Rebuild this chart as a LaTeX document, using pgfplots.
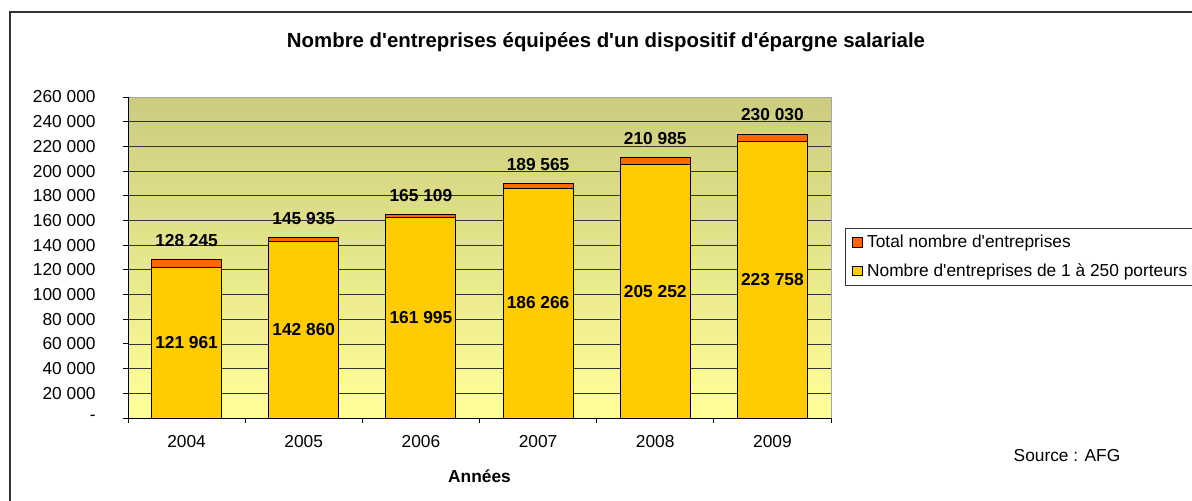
\documentclass[border=0pt]{standalone}
\usepackage{fontspec}
\setmainfont{Liberation Sans}
\usepackage{pgfplots}
\pgfplotsset{compat=1.18}
\definecolor{barY}{RGB}{255,204,0}
\definecolor{barO}{RGB}{255,102,0}
\definecolor{bgTop}{RGB}{204,204,128}
\definecolor{bgBot}{RGB}{255,255,153}
\newcommand{\ap}{\textquotesingle}
\begin{document}
\begin{tikzpicture}
\useasboundingbox (0,0) rectangle (894pt,375pt);
\clip (0,0) rectangle (894pt,375pt);
\fill[white] (0,0) rectangle (894pt,375pt);
\draw[line width=1.5pt, black!80] (7.5pt,-5pt) -- (7.5pt,366pt) -- (900pt,366pt);
\node[font=\fontsize{15.3}{18}\selectfont\bfseries] at (454.5pt,343.5pt) {Nombre d\ap entreprises équipées d\ap un dispositif d\ap épargne salariale};
\node[font=\fontsize{13}{15}\selectfont] at (800.25pt,33pt) {Source : AFG};
\begin{axis}[
  at={(96pt,61.5pt)}, anchor=south west,
  scale only axis, width=527.25pt, height=240.75pt,
  xmin=-0.5, xmax=5.5, ymin=0, ymax=260000,
  clip=false,
  axis x line*=bottom, axis y line*=left,
  axis line style={black, line width=0.75pt},
  axis background/.style={top color=bgTop, bottom color=bgBot, draw=gray!70, line width=0.75pt},
  tick align=outside, major tick length=3.75pt,
  tick style={black, line width=0.75pt},
  xtick={-0.5,0.5,1.5,2.5,3.5,4.5,5.5},
  x tick label as interval=true,
  xticklabels={2004,2005,2006,2007,2008,2009},
  x tick label style={yshift=-6pt},
  ytick={0,20000,40000,60000,80000,100000,120000,140000,160000,180000,200000,220000,240000},
  yticklabels={-,20 000,40 000,60 000,80 000,100 000,120 000,140 000,160 000,180 000,200 000,220 000,240 000},
  extra y ticks={260000}, extra y tick labels={260 000},
  extra y tick style={grid=none},
  y tick label style={anchor=east, xshift=-17pt},
  scaled y ticks=false,
  ticklabel style={font=\fontsize{13}{15}\selectfont},
  ymajorgrids, grid style={black!80, line width=0.6pt},
  xlabel={Années},
  xlabel style={at={(axis description cs:0.5,0)}, anchor=center, yshift=-43.5pt, font=\fontsize{13}{15}\selectfont\bfseries},
  legend style={at={(axis description cs:1.0199,0.5919)}, anchor=north west, draw=black!80, line width=0.6pt,
    font=\fontsize{13}{15}\selectfont, row sep=6.5pt, inner xsep=5pt, inner ysep=3pt},
  legend cell align=left,
  legend image code/.code={\draw[#1, draw=black, line width=0.6pt] (0pt,-3.6pt) rectangle (7.2pt,3.6pt);
    \path[draw=none, fill=none] (0pt,0pt) -- (9pt,0pt);},
]
\addplot[ybar, bar width=52.5pt, bar shift=0pt, fill=barO, draw=black, line width=0.75pt,
  nodes near coords, point meta=explicit symbolic,
  nodes near coords style={font=\fontsize{13}{15}\selectfont\bfseries, anchor=south, yshift=6pt, text=black}]
  coordinates {(0,128245) [128 245] (1,145935) [145 935] (2,165109) [165 109]
               (3,189565) [189 565] (4,210985) [210 985] (5,230030) [230 030]};
\addlegendentry{Total nombre d\ap entreprises}
\addplot[ybar, bar width=52.5pt, bar shift=0pt, fill=barY, draw=black, line width=0.75pt]
  coordinates {(0,121961) (1,142860) (2,161995) (3,186266) (4,205252) (5,223758)};
\addlegendentry{Nombre d\ap entreprises de 1 à 250 porteurs}
\addplot[draw=none, mark=none, forget plot,
  nodes near coords, point meta=explicit symbolic,
  nodes near coords style={font=\fontsize{13}{15}\selectfont\bfseries, anchor=center, text=black}]
  coordinates {(0,60980.5) [121 961] (1,71430) [142 860] (2,80997.5) [161 995]
               (3,93133) [186 266] (4,102626) [205 252] (5,111879) [223 758]};
\end{axis}
\end{tikzpicture}
\end{document}
